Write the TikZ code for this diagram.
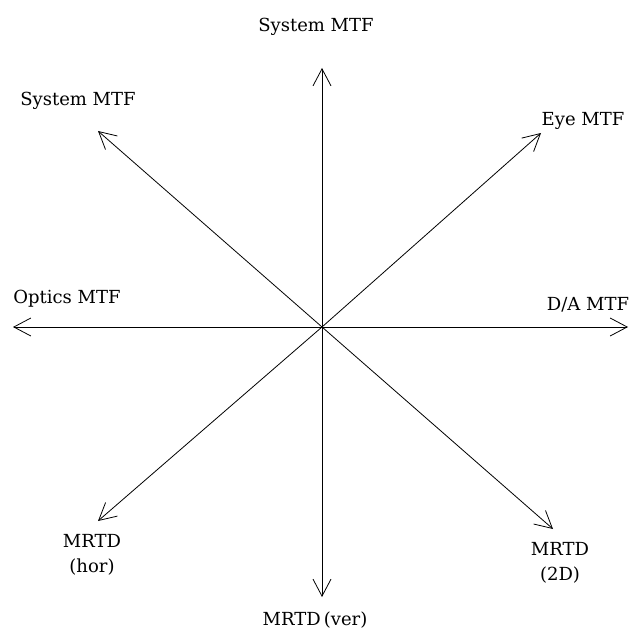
\documentclass[tikz,border=0pt]{standalone}
\usepackage{fontspec}
\setmainfont{DejaVu Serif}
\usetikzlibrary{arrows.meta}

\begin{document}
\begin{tikzpicture}[
  x=1pt, y=-1pt,
  font=\fontsize{18}{25}\selectfont,
  every node/.style={inner sep=0pt, align=center},
  axis/.style={line width=0.8pt, -{Straight Barb[length=17pt, width=18pt]}}
]
\useasboundingbox (0,0) rectangle (634,631);
\coordinate (o) at (322,327);
\coordinate (n) at (322,68);
\coordinate (s) at (322,597);
\coordinate (w) at (13,327);
\coordinate (e) at (628,327);
\coordinate (nw) at (98,131);
\coordinate (ne) at (541,133);
\coordinate (se) at (553,529);
\coordinate (sw) at (98,521);
\foreach \tip in {n,s,w,e,nw,ne,se,sw}
  \draw[axis] (o) -- (\tip);
\node (sysTop) at (316,27) {System MTF};
\node (sysLeft) at (78,101) {System MTF};
\node (eye) at (583,121) {Eye MTF};
\node (optics) at (67,299) {Optics MTF};
\node (da) at (588,305) {D/A MTF};
\node (mrtdTwo) at (560,563) {MRTD\\(2D)};
\node (mrtdHor) at (92,555) {MRTD\\(hor)};
\node (mrtdVer) at (315,620) {MRTD\,(ver)};
\end{tikzpicture}
\end{document}
